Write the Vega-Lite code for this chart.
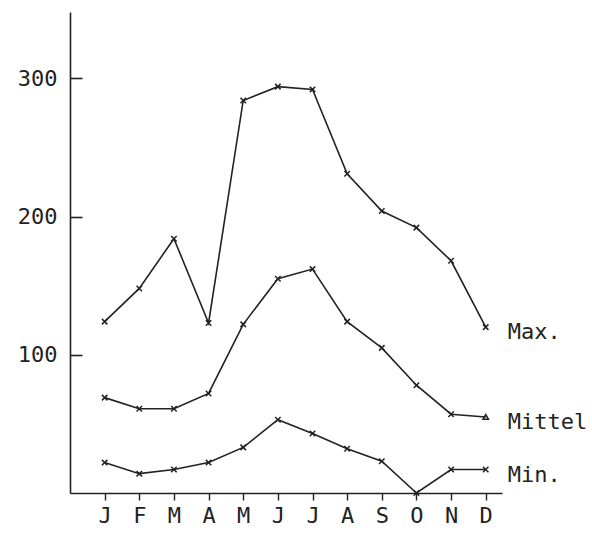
{
  "$schema": "https://vega.github.io/schema/vega-lite/v6.json",
  "width": 432,
  "height": 481,
  "autosize": "none",
  "padding": {"left": 70, "top": 12, "right": 90, "bottom": 45},
  "background": "white",
  "config": {"view": {"stroke": null}, "font": "DejaVu Sans Mono"},
  "data": {"values": [
    {"m": 1, "series": "Max.", "v": 124},
    {"m": 2, "series": "Max.", "v": 148},
    {"m": 3, "series": "Max.", "v": 184},
    {"m": 4, "series": "Max.", "v": 123},
    {"m": 5, "series": "Max.", "v": 284},
    {"m": 6, "series": "Max.", "v": 294},
    {"m": 7, "series": "Max.", "v": 292},
    {"m": 8, "series": "Max.", "v": 231},
    {"m": 9, "series": "Max.", "v": 204},
    {"m": 10, "series": "Max.", "v": 192},
    {"m": 11, "series": "Max.", "v": 168},
    {"m": 12, "series": "Max.", "v": 120},
    {"m": 1, "series": "Mittel", "v": 69},
    {"m": 2, "series": "Mittel", "v": 61},
    {"m": 3, "series": "Mittel", "v": 61},
    {"m": 4, "series": "Mittel", "v": 72},
    {"m": 5, "series": "Mittel", "v": 122},
    {"m": 6, "series": "Mittel", "v": 155},
    {"m": 7, "series": "Mittel", "v": 162},
    {"m": 8, "series": "Mittel", "v": 124},
    {"m": 9, "series": "Mittel", "v": 105},
    {"m": 10, "series": "Mittel", "v": 78},
    {"m": 11, "series": "Mittel", "v": 57},
    {"m": 12, "series": "Mittel", "v": 55},
    {"m": 1, "series": "Min.", "v": 22},
    {"m": 2, "series": "Min.", "v": 14},
    {"m": 3, "series": "Min.", "v": 17},
    {"m": 4, "series": "Min.", "v": 22},
    {"m": 5, "series": "Min.", "v": 33},
    {"m": 6, "series": "Min.", "v": 53},
    {"m": 7, "series": "Min.", "v": 43},
    {"m": 8, "series": "Min.", "v": 32},
    {"m": 9, "series": "Min.", "v": 23},
    {"m": 10, "series": "Min.", "v": 0},
    {"m": 11, "series": "Min.", "v": 17},
    {"m": 12, "series": "Min.", "v": 17}
  ]},
  "encoding": {
    "x": {
      "field": "m", "type": "quantitative",
      "scale": {"domain": [0, 12.47], "nice": false, "zero": false},
      "axis": {
        "title": null, "grid": false, "values": [1,2,3,4,5,6,7,8,9,10,11,12],
        "labelExpr": "['J','F','M','A','M','J','J','A','S','O','N','D'][datum.value-1]",
        "domainColor": "#222", "domainWidth": 1.6,
        "tickColor": "#222", "tickWidth": 1.4, "tickSize": 7,
        "labelFontSize": 22, "labelColor": "#222", "labelPadding": 5,
        "labelFont": "DejaVu Sans Mono"
      }
    },
    "y": {
      "field": "v", "type": "quantitative",
      "scale": {"domain": [0, 348], "nice": false},
      "axis": {
        "title": null, "grid": false, "values": [100, 200, 300],
        "domainColor": "#222", "domainWidth": 1.6,
        "tickColor": "#222", "tickWidth": 1.6, "tickSize": -12,
        "labelFontSize": 22, "labelColor": "#222", "labelPadding": 25,
        "labelFont": "DejaVu Sans Mono"
      }
    }
  },
  "layer": [
    {
      "mark": {"type": "line", "color": "#222", "strokeWidth": 1.6},
      "encoding": {"detail": {"field": "series"}}
    },
    {
      "mark": {"type": "point", "filled": false, "color": "#222", "strokeWidth": 1.5, "size": 30, "opacity": 1},
      "encoding": {
        "shape": {
          "condition": {"test": "datum.series === 'Mittel' && datum.m === 12", "value": "triangle-up"},
          "value": "M-1,-1L1,1M1,-1L-1,1"
        }
      }
    },
    {
      "transform": [{"filter": "datum.m === 12"}],
      "mark": {"type": "text", "align": "left", "baseline": "middle", "dx": 22, "dy": 5, "fontSize": 22, "color": "#222", "font": "DejaVu Sans Mono"},
      "encoding": {"text": {"field": "series"}}
    }
  ]
}
